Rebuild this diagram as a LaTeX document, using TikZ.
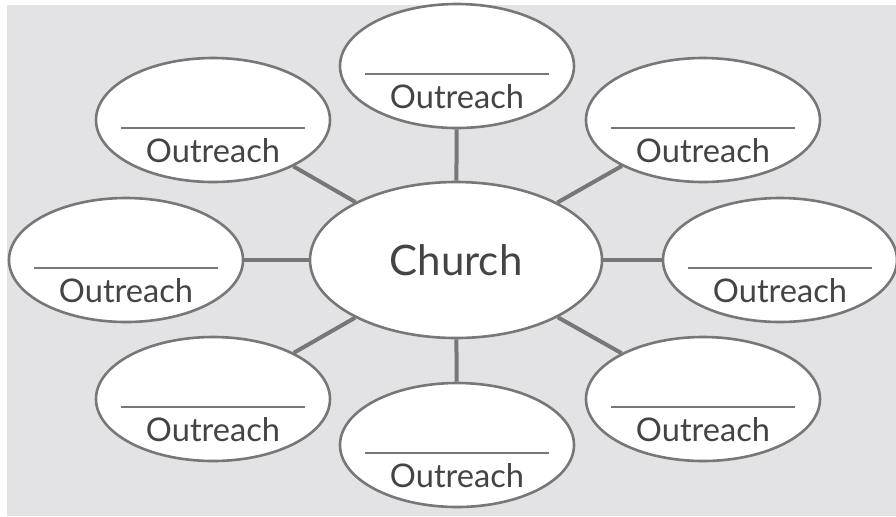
\documentclass[tikz,border=0pt]{standalone}
\usepackage{fontspec}
\setmainfont{Lato}
\usetikzlibrary{shapes.geometric}

\definecolor{bggray}{HTML}{E3E3E5}
\definecolor{rimgray}{HTML}{777777}
\definecolor{inkgray}{HTML}{444444}

\begin{document}
\begin{tikzpicture}[x=0.5pt,y=-0.5pt,
  bubble/.style={ellipse,draw=rimgray,line width=1.3pt,fill=white,inner sep=0pt,
    minimum width=117pt,minimum height=62pt},
  hub/.style={ellipse,draw=rimgray,line width=1.3pt,fill=white,inner sep=0pt,
    minimum width=146pt,minimum height=78pt,font=\fontsize{21}{24}\selectfont,text=inkgray},
  spoke/.style={draw=rimgray,line width=2pt},
  blank/.style={draw=rimgray,line width=1.1pt},
  tag/.style={inner sep=0pt,font=\fontsize{16.3}{19}\selectfont,text=inkgray}]
\useasboundingbox (0,0) rectangle (896,516);
\fill [bggray] (7,5) rectangle (896,516);
% outreach bubbles
\node [bubble] (t)  at (457,66)  {};
\node [bubble] (tl) at (213,120) {};
\node [bubble] (tr) at (703,120) {};
\node [bubble] (l)  at (126,260) {};
\node [bubble] (r)  at (780,260) {};
\node [bubble] (bl) at (213,399) {};
\node [bubble] (b)  at (457,445) {};
\node [bubble] (br) at (703,399) {};
% centre
\node [hub] (church) at (456,260) {Church};
% spokes and labels
\foreach \o in {t,tl,tr,l,r,bl,b,br} {
  \draw [spoke] (church) -- (\o);
  \draw [blank] ([xshift=-46pt,yshift=-3.8pt]\o.center) -- ([xshift=46pt,yshift=-3.8pt]\o.center);
  \node [tag] (\o-txt) at ([yshift=-15.5pt]\o.center) {Outreach};
}
\end{tikzpicture}
\end{document}
